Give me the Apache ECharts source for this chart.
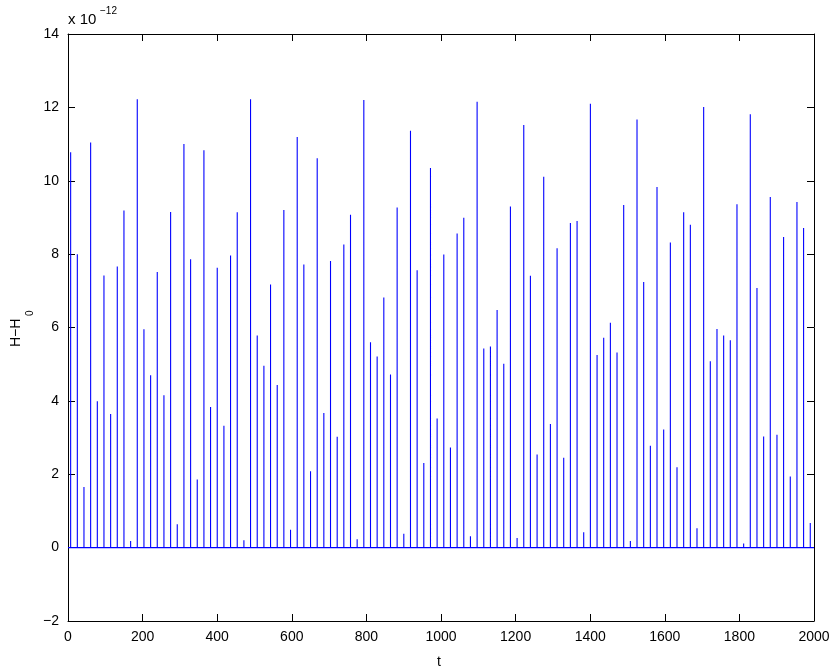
<!DOCTYPE html>
<html>
<head>
<meta charset="utf-8">
<script src="https://cdn.jsdelivr.net/npm/echarts@6/dist/echarts.min.js"></script>
<style>
html,body{margin:0;padding:0;background:#fff;}
#chart{width:835px;height:669px;}
</style>
</head>
<body>
<div id="chart"></div>
<script>
// spike times (t)
var spikeT = [7.1,25.0,42.8,60.7,78.6,96.4,114.3,132.1,150.0,167.9,185.7,203.6,221.5,239.3,257.2,275.1,292.9,310.8,328.7,346.5,
364.4,382.2,400.1,418.0,435.8,453.7,471.6,489.4,507.3,525.2,543.0,560.9,578.7,596.6,614.5,632.3,650.2,668.1,685.9,703.8,
721.7,739.5,757.4,775.2,793.1,811.0,828.8,846.7,864.6,882.4,900.3,918.2,936.0,953.9,971.8,989.6,1007.5,1025.3,1043.2,1061.1,
1078.9,1096.8,1114.7,1132.5,1150.4,1168.3,1186.1,1204.0,1221.9,1239.7,1257.6,1275.4,1293.3,1311.2,1329.0,1346.9,1364.8,1382.6,1400.5,1418.4,
1436.2,1454.1,1471.9,1489.8,1507.7,1525.5,1543.4,1561.3,1579.1,1597.0,1614.9,1632.7,1650.6,1668.5,1686.3,1704.2,1722.0,1739.9,1757.8,1775.6,
1793.5,1811.4,1829.2,1847.1,1865.0,1882.8,1900.7,1918.5,1936.4,1954.3,1972.1,1990.0];
// spike heights H-H0 (x 1e-12)
var spikeH = [10.78,8.00,1.65,11.04,3.99,7.42,3.64,7.66,9.19,0.18,12.22,5.95,4.70,7.51,4.15,9.15,0.64,11.00,7.86,1.86,
10.83,3.83,7.63,3.32,7.96,9.14,0.20,12.22,5.78,4.96,7.17,4.43,9.20,0.49,11.19,7.72,2.08,10.61,3.67,7.81,
3.02,8.26,9.07,0.23,12.20,5.60,5.21,6.82,4.72,9.27,0.38,11.36,7.56,2.31,10.35,3.52,7.99,2.73,8.56,8.99,
0.31,12.15,5.43,5.48,6.48,5.01,9.30,0.26,11.52,7.41,2.54,10.11,3.37,8.16,2.45,8.85,8.90,0.42,12.10,5.25,
5.72,6.13,5.32,9.34,0.18,11.67,7.24,2.78,9.83,3.22,8.32,2.19,9.14,8.80,0.53,12.01,5.08,5.96,5.78,5.65,
9.36,0.11,11.81,7.08,3.03,9.56,3.08,8.47,1.94,9.42,8.71,0.67];
var tStart = 0, tEnd = 2000, baseline = 0;
var xTicks = ['0','200','400','600','800','1000','1200','1400','1600','1800','2000'];
var yTicks = ['\u22122','0','2','4','6','8','10','12','14'];

var lineData = [[tStart, baseline]];
for (var i = 0; i < spikeT.length; i++) {
  lineData.push([spikeT[i], baseline]);
  lineData.push([spikeT[i], spikeH[i]]);
  lineData.push([spikeT[i], baseline]);
}
lineData.push([tEnd, baseline]);

var font = 'Liberation Sans, Arial, Helvetica, sans-serif';
var chart = echarts.init(document.getElementById('chart'), null, {renderer:'canvas'});
var axTick = {show:true, inside:true, length:7, lineStyle:{color:'#000', width:1}};
var axLine = {show:true, onZero:false, lineStyle:{color:'#000', width:1}};
chart.setOption({
  animation:false,
  backgroundColor:'#fff',
  grid:{left:68, right:21, top:34, bottom:48, containLabel:false},
  xAxis:[
    {type:'value', min:0, max:2000, interval:200, position:'bottom',
     axisLine:axLine, axisTick:axTick, splitLine:{show:false},
     axisLabel:{margin:9, color:'#000', fontSize:14, fontFamily:font,
       formatter:function(v){return xTicks[Math.round(v/200)];}}},
    {type:'value', min:0, max:2000, interval:200, position:'top',
     axisLine:axLine, axisTick:axTick, splitLine:{show:false}, axisLabel:{show:false}}
  ],
  yAxis:[
    {type:'value', min:-2, max:14, interval:2, position:'left',
     axisLine:axLine, axisTick:axTick, splitLine:{show:false},
     axisLabel:{margin:9, color:'#000', fontSize:14, fontFamily:font,
       formatter:function(v){return yTicks[Math.round((v+2)/2)];}}},
    {type:'value', min:-2, max:14, interval:2, position:'right',
     axisLine:axLine, axisTick:axTick, splitLine:{show:false}, axisLabel:{show:false}}
  ],
  series:[{
    type:'line', data:lineData, showSymbol:false, symbol:'none',
    lineStyle:{color:'#0000ff', width:1.1}, xAxisIndex:0, yAxisIndex:0
  }],
  graphic:[
    {type:'text', x:68, y:12, style:{
      text:'x 10', fill:'#000', font:'15px '+font
    }},
    {type:'text', x:100, y:6, style:{
      text:'\u221212', fill:'#000', font:'10px '+font
    }},
    {type:'text', x:437, y:655, style:{text:'t', fill:'#000', font:'14px '+font}},
    {type:'text', x:9, y:347, rotation:Math.PI/2, style:{
      text:'H\u2212H', fill:'#000', font:'14px '+font
    }},
    {type:'text', x:25, y:316, rotation:Math.PI/2, style:{
      text:'0', fill:'#000', font:'10px '+font
    }}
  ]
});
</script>
</body>
</html>
